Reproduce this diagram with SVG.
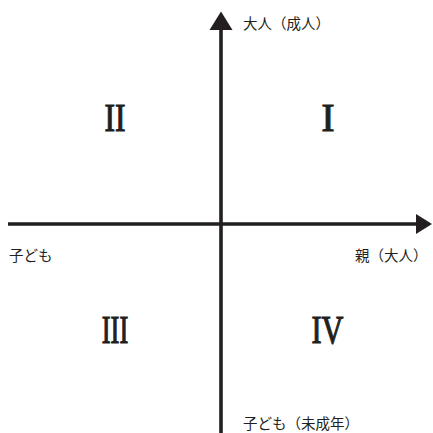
<svg xmlns="http://www.w3.org/2000/svg" width="433" height="433" viewBox="0 0 433 433">
<style>
.ax{stroke:#231f20;stroke-width:3.6;fill:none}
.ah{fill:#231f20}
.jp{font-family:"Noto Sans CJK JP","Noto Sans",sans-serif;font-size:14.5px;fill:#231f20}
.rn{font-family:"Liberation Serif","Times New Roman",serif;font-size:39px;fill:#231f20;stroke:#231f20;stroke-width:1.2;text-anchor:middle}
</style>
<rect width="433" height="433" fill="#fff"/>
<g id="connectors">
<line class="ax" x1="8" y1="224" x2="418" y2="224"/>
<polygon class="ah" points="416,214 432,224 416,234"/>
<line class="ax" x1="221" y1="28" x2="221" y2="433"/>
<polygon class="ah" points="209.5,30 221,11.5 232.5,30"/>
</g>
<g id="label-top"><text class="jp" x="243" y="29">大人（成人）</text></g>
<g id="label-left"><text class="jp" x="9" y="261">子ども</text></g>
<g id="label-right"><text class="jp" x="355" y="261">親（大人）</text></g>
<g id="label-bottom"><text class="jp" x="243" y="429">子ども（未成年）</text></g>
<g id="q1"><text class="rn" x="328" y="131" textLength="13" lengthAdjust="spacingAndGlyphs">I</text></g>
<g id="q2"><text class="rn" x="115" y="131" textLength="21" lengthAdjust="spacingAndGlyphs">II</text></g>
<g id="q3"><text class="rn" x="115" y="343" textLength="26.5" lengthAdjust="spacingAndGlyphs">III</text></g>
<g id="q4"><text class="rn" x="327.5" y="343" textLength="32" lengthAdjust="spacingAndGlyphs">IV</text></g>
</svg>
